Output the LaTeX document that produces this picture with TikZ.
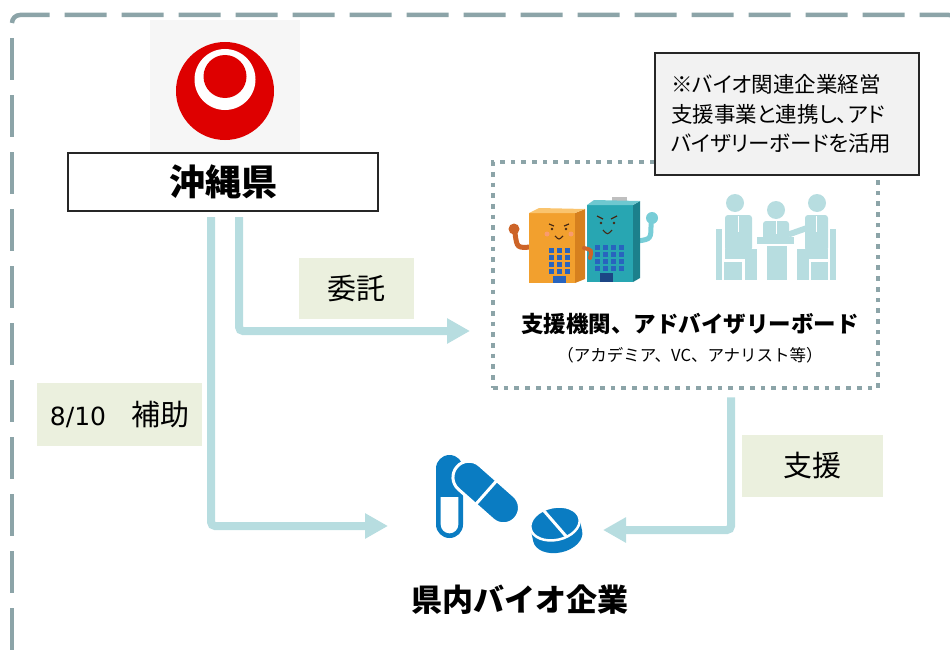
\documentclass[tikz,border=0pt]{standalone}
\usepackage{fontspec}
\setmainfont{Noto Sans CJK JP}
\newfontfamily\jp{Noto Sans CJK JP}
\newfontfamily\jpp[RawFeature=+palt]{Noto Sans CJK JP}
\newfontfamily\digitfont{DejaVu Sans}
\usetikzlibrary{arrows.meta}

\definecolor{framec}{RGB}{140,164,168}
\definecolor{flowc}{RGB}{183,221,224}
\definecolor{lblbg}{RGB}{235,240,222}
\definecolor{notebg}{RGB}{242,242,242}
\definecolor{edgec}{RGB}{38,38,38}
\definecolor{okred}{RGB}{222,0,0}
\definecolor{logobg}{RGB}{246,246,246}
\definecolor{pillblue}{RGB}{10,124,194}
\definecolor{bldor}{RGB}{242,160,46}
\definecolor{bldordk}{RGB}{214,128,30}
\definecolor{bldorlt}{RGB}{250,196,110}
\definecolor{armor}{RGB}{205,100,40}
\definecolor{bldte}{RGB}{40,166,178}
\definecolor{bldtedk}{RGB}{28,128,140}
\definecolor{bldtelt}{RGB}{110,200,208}
\definecolor{armte}{RGB}{120,205,215}
\definecolor{winblue}{RGB}{40,100,190}
\definecolor{facedk}{RGB}{70,40,20}

\tikzset{
  frameline/.style={draw=framec, line width=4.5pt, rounded corners=8pt, dash pattern=on 42pt off 15pt},
  dotbox/.style={draw=framec, line width=4.7pt, dash pattern=on 4.7pt off 6pt, inner sep=0pt},
  flowarrow/.style={draw=flowc, line width=8pt, rounded corners=4pt, -{Triangle[length=23pt,width=24pt]}},
  lbl/.style={fill=lblbg, inner sep=0pt, text=black, font=\jp\fontsize{29}{34}\selectfont},
  prefbox/.style={draw=edgec, line width=2pt, fill=white, inner sep=0pt, minimum width=310pt, minimum height=58pt, font=\jp\bfseries\fontsize{36}{40}\selectfont},
  notebox/.style={draw=edgec, line width=2pt, fill=notebg, inner xsep=14pt, inner ysep=0pt, minimum width=264pt, minimum height=122pt, text width=232pt, align=left, font=\jpp\fontsize{21.5}{29.5}\selectfont},
  person/.style={fill=flowc, draw=none},
}

\begin{document}
\begin{tikzpicture}[x=1pt,y=-1pt]
\useasboundingbox (0,0) rectangle (950,661);

% outer dashed frame
\draw[frameline] (12,23) -- (12,15) -- (957,15) -- (957,80);
\draw[frameline, dash phase=42pt] (12,23) -- (12,700);

% prefectural emblem
\fill[logobg] (150,20) rectangle (300,165);
\fill[okred] (225,91) circle (49pt);
\fill[white] (225,79.5) circle (30.5pt);
\fill[okred] (225,76.5) circle (21.5pt);

% prefecture box
\node[prefbox] (pref) at (223,182) {沖縄県};

% support body box
\node[dotbox, minimum width=385pt, minimum height=226pt] (sup) at (685.5,275) {};
\node[font=\jp\bfseries\fontsize{22.5}{26}\selectfont] (suptitle) at (690,324) {支援機関、アドバイザリーボード};
\node[font=\jp\fontsize{16.5}{20}\selectfont] (supsub) at (690,355) {（アカデミア、VC、アナリスト等）};

% note
\node[notebox] (note) at (787,114) {※バイオ関連企業経営\\支援事業と連携し、アド\\バイザリーボードを活用};

% building characters
\begin{scope}
  % orange building
  \draw[armor, line width=5pt, line cap=round] (531,247) .. controls (517,248) .. (515,233);
  \fill[armor] (514,229) circle (5.5pt);
  \fill[bldor] (529,213) rectangle (575,283);
  \fill[bldordk] (575,213) -- (585,209) -- (585,279) -- (575,283) -- cycle;
  \fill[bldorlt] (529,213) -- (539,208) -- (585,209) -- (575,213) -- cycle;
  \foreach \wx in {549,557,565}
    \foreach \wy in {248,255,262,269}
      \fill[winblue] (\wx,\wy) rectangle +(4.5,4.5);
  \fill[winblue] (553,276) rectangle (566,283);
  \draw[facedk, line width=1.2pt] (549,224) -- (554,226) (569,224) -- (564,226);
  \fill[facedk] (552,229) circle (1.4pt) (566,229) circle (1.4pt);
  \draw[facedk, line width=1.1pt] (555,236) .. controls (559,240) .. (563,236);
  \fill[red!40, opacity=0.6] (547,234) circle (2.5pt) (571,234) circle (2.5pt);
  % teal building
  \draw[armte, line width=5pt, line cap=round] (638,241) .. controls (651,239) .. (651,224);
  \fill[armte] (652,218) circle (6pt);
  \fill[lightgray] (612,197) rectangle (627,202);
  \fill[bldte] (587,205) rectangle (633,282);
  \fill[bldtedk] (633,205) -- (640,201) -- (640,278) -- (633,282) -- cycle;
  \fill[bldtelt] (587,205) -- (594,200) -- (640,201) -- (633,205) -- cycle;
  \foreach \wx in {595,603,611,619}
    \foreach \wy in {245,252,259,266}
      \fill[winblue] (\wx,\wy) rectangle +(4.5,4.5);
  \fill[winblue!70!black] (600,273) rectangle (613,282);
  \draw[facedk, line width=1.2pt] (597,216) -- (603,219) (617,216) -- (611,219);
  \fill[facedk] (601,223) circle (1.4pt) (614,223) circle (1.4pt);
  \draw[facedk, line width=1.1pt] (603,230) .. controls (607.5,235) .. (612,230);
  % linked arms
  \draw[armor, line width=4pt, line cap=round] (584,248) .. controls (592,250) .. (590,258);
\end{scope}

% meeting people
\begin{scope}
  % left person on chair
  \fill[person] (716,229) rectangle (722,280);
  \fill[person] (735,203) circle (9pt);
  \fill[person, rounded corners=3pt] (725,215) rectangle (752,251);
  \draw[white, line width=1pt] (738,216) -- (738,232);
  \fill[person] (725,249) rectangle (757,259);
  \fill[person] (745,259) rectangle (757,280);
  \fill[person] (724,262) rectangle (742,280);
  % middle person with podium
  \fill[person] (776,210) circle (9pt);
  \fill[person, rounded corners=3pt] (763,221) rectangle (789,240);
  \draw[white, line width=1pt] (776,221) -- (776,234);
  \fill[person] (757,237) rectangle (794,244);
  \fill[person] (767,246) rectangle (787,280);
  % right person on chair
  \fill[person] (830,229) rectangle (836,280);
  \fill[person] (817,203) circle (9pt);
  \fill[person, rounded corners=3pt] (805,215) rectangle (828,251);
  \draw[flowc, line width=6pt, line cap=round] (807,228) -- (790,234);
  \draw[white, line width=1pt] (816,216) -- (816,232);
  \fill[person] (797,249) rectangle (828,259);
  \fill[person] (797,259) rectangle (809,280);
  \fill[person] (811,262) rectangle (828,280);
\end{scope}

% medicine icon
\fill[pillblue] (436,468.5) arc[start angle=180, end angle=0, radius=13.5pt] -- (463,524.5) arc[start angle=0, end angle=-180, radius=13.5pt] -- cycle;
\fill[white] (440.7,497) -- (458.3,497) -- (458.3,524.5) arc[start angle=0, end angle=-180, radius=8.8pt] -- cycle;
\begin{scope}[shift={(486.2,492.5)}, rotate=-41.5]
  \draw[white, line width=3pt, fill=pillblue, rounded corners=15.9pt] (-39,-16) rectangle (39,16);
  \draw[white, line width=3pt] (0,-17.5) -- (0,17.5);
\end{scope}
\begin{scope}[shift={(555,523.5)}, rotate=12]
  \fill[pillblue] (-25,0) -- (-25,13) arc[start angle=180, end angle=360, x radius=25pt, y radius=16.5pt] -- (25,0) -- cycle;
  \draw[white, line width=2.5pt, fill=pillblue] (0,0) ellipse [x radius=25pt, y radius=16.5pt];
  \begin{scope}
    \clip (0,0) ellipse [x radius=24pt, y radius=15.5pt];
    \draw[white, line width=3pt] (-10,-18) -- (10,18);
  \end{scope}
\end{scope}
\node[font=\jp\bfseries\fontsize{31}{36}\selectfont] (bio) at (520,600) {県内バイオ企業};

% connectors
\coordinate (tipA) at (388,526);
\coordinate (tipB) at (470,331);
\coordinate (tipC) at (603,530);
\draw[flowarrow] ([xshift=-12pt,yshift=-5pt]pref.south) |- (tipA);
\draw[flowarrow] ([xshift=16pt,yshift=-5pt]pref.south) |- (tipB);
\draw[flowarrow] ([xshift=45.5pt,yshift=-7pt]sup.south) |- (tipC);

% connector labels
\node[lbl, minimum width=115pt, minimum height=61pt] (lblA) at (356.5,288.5) {委託};
\node[lbl, minimum width=165pt, minimum height=63pt] (lblB) at (119.5,414.5) {{\digitfont\fontsize{25}{30}\selectfont 8/10}\hspace{25pt}補助};
\node[lbl, minimum width=141pt, minimum height=62pt] (lblC) at (812.5,466) {支援};
\end{tikzpicture}
\end{document}
